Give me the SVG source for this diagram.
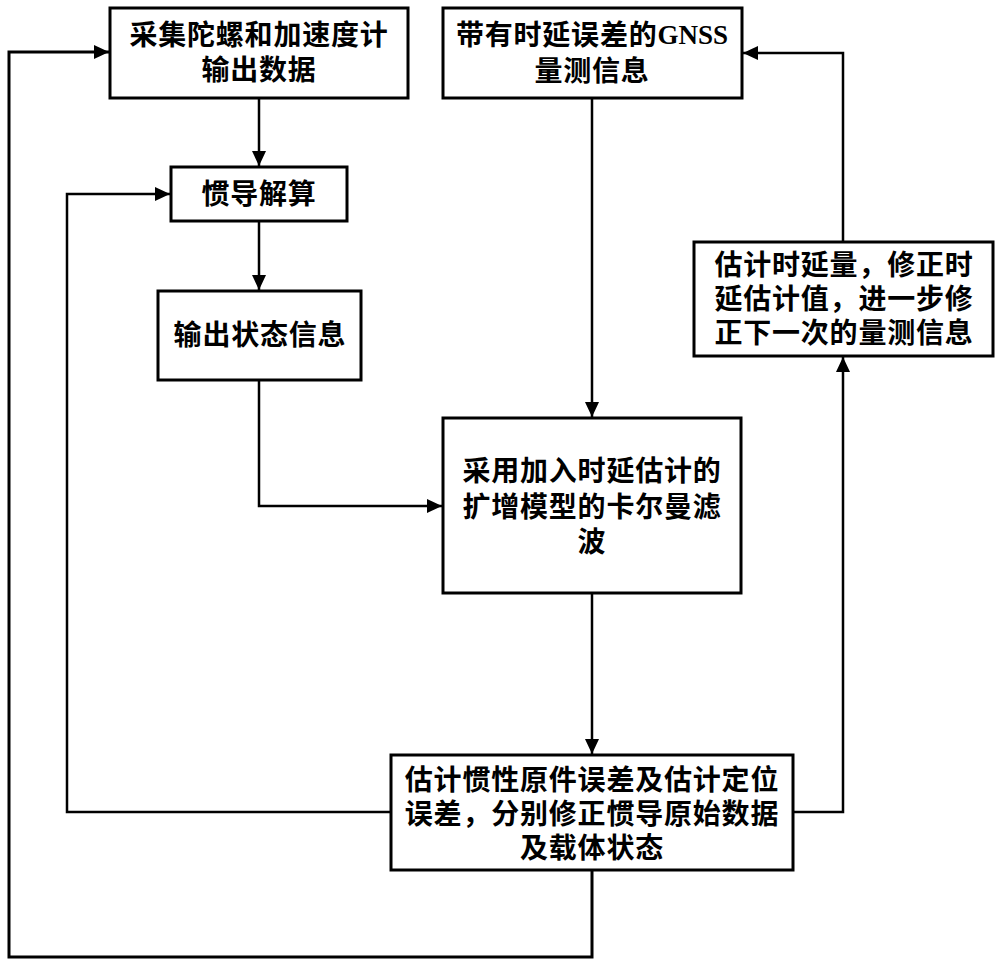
<svg xmlns="http://www.w3.org/2000/svg" width="1000" height="969" viewBox="0 0 1000 969">
<style>
.box{fill:#fff;stroke:#000;stroke-width:3}
.ln{fill:none;stroke:#000;stroke-width:2.5}
.t{font-family:"Liberation Serif","Noto Sans CJK SC",serif;font-weight:bold;font-size:28px;letter-spacing:0.8px;text-anchor:middle;dominant-baseline:central;fill:#000}
</style>
<defs>
<marker id="ar" markerUnits="userSpaceOnUse" markerWidth="18" markerHeight="18" viewBox="0 0 18 18" refX="15" refY="9" orient="auto">
<path d="M0,2 L15,9 L0,16 Z" fill="#000"/>
</marker>
</defs>
<rect width="1000" height="969" fill="#fff"/>
<g id="connectors">
<path class="ln" d="M259,98 V166" marker-end="url(#ar)"/>
<path class="ln" d="M259,221 V290" marker-end="url(#ar)"/>
<path class="ln" d="M259,380 V506 H442" marker-end="url(#ar)"/>
<path class="ln" d="M592,98 V417" marker-end="url(#ar)"/>
<path class="ln" d="M592,593 V754" marker-end="url(#ar)"/>
<path class="ln" d="M391,812 H67 V194 H170" marker-end="url(#ar)"/>
<path class="ln" d="M793,812 H843 V357" marker-end="url(#ar)"/>
<path class="ln" d="M843,242 V53 H743" marker-end="url(#ar)"/>
<path class="ln" d="M592,870 V957 H9 V52 H109" marker-end="url(#ar)" style="stroke-width:3"/>
</g>
<g id="node-collect">
<rect class="box" x="110" y="8" width="298" height="90"/>
<text class="t" x="259" y="35">采集陀螺和加速度计</text>
<text class="t" x="259" y="70">输出数据</text>
</g>
<g id="node-gnss">
<rect class="box" x="443" y="8" width="299" height="90"/>
<text class="t" x="592" y="35">带有时延误差的<tspan style="letter-spacing:0;font-size:27px">GNSS</tspan></text>
<text class="t" x="592" y="71">量测信息</text>
</g>
<g id="node-ins">
<rect class="box" x="171" y="167" width="176" height="54"/>
<text class="t" x="259" y="194">惯导解算</text>
</g>
<g id="node-state">
<rect class="box" x="158" y="291" width="203" height="89"/>
<text class="t" x="260" y="335">输出状态信息</text>
</g>
<g id="node-delay">
<rect class="box" x="694" y="242" width="299" height="114"/>
<text class="t" x="844" y="265">估计时延量，修正时</text>
<text class="t" x="844" y="299">延估计值，进一步修</text>
<text class="t" x="844" y="333">正下一次的量测信息</text>
</g>
<g id="node-kalman">
<rect class="box" x="443" y="418" width="298" height="175"/>
<text class="t" x="592" y="471">采用加入时延估计的</text>
<text class="t" x="592" y="507">扩增模型的卡尔曼滤</text>
<text class="t" x="592" y="542">波</text>
</g>
<g id="node-correct">
<rect class="box" x="391" y="755" width="402" height="115"/>
<text class="t" x="592" y="780">估计惯性原件误差及估计定位</text>
<text class="t" x="592" y="814">误差，分别修正惯导原始数据</text>
<text class="t" x="592" y="848">及载体状态</text>
</g>
</svg>
